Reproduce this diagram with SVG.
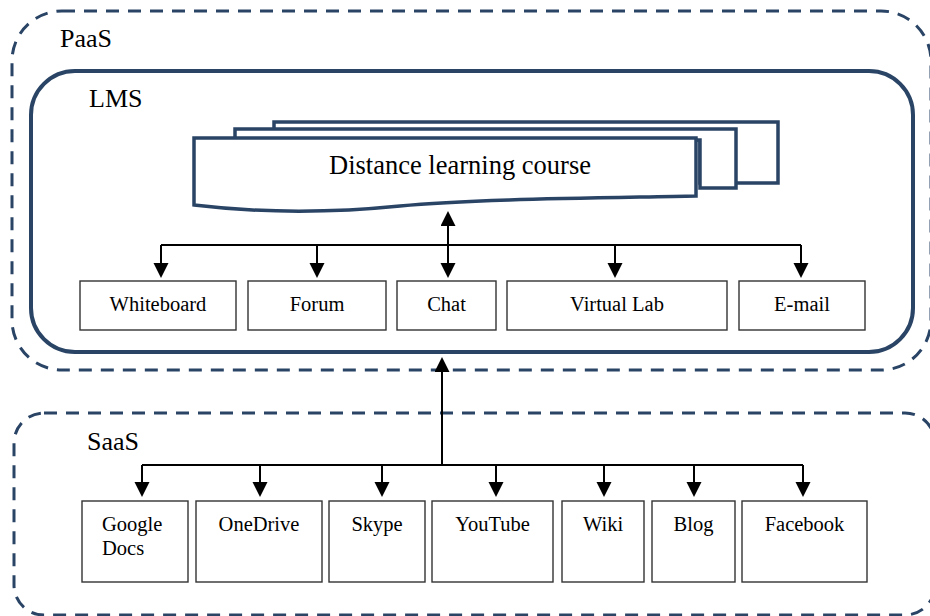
<svg xmlns="http://www.w3.org/2000/svg" width="930" height="616" viewBox="0 0 930 616">
<style>
.lbl{font-family:"Liberation Serif","Times New Roman",serif;fill:#000}
.big{font-size:26px}
.box{fill:#fff;stroke:#333;stroke-width:1.4}
.bt{font-size:20.5px;text-anchor:middle}
.dash{fill:none;stroke:#2a4466;stroke-width:3;stroke-dasharray:13 9}
.doc{fill:#fff;stroke:#2a4466;stroke-width:3.5;stroke-linejoin:miter}
.con{fill:none;stroke:#000;stroke-width:2}
</style>
<defs>
<marker id="ah" markerUnits="userSpaceOnUse" markerWidth="16" markerHeight="16" refX="12" refY="7.5" orient="auto-start-reverse" viewBox="0 0 16 16">
<path d="M0,0 L15,7.5 L0,15 Z" fill="#000"/>
</marker>
</defs>
<g id="paas">
<rect class="dash" x="12" y="11" width="919" height="359" rx="50" ry="50"/>
<text class="lbl big" x="60" y="47">PaaS</text>
</g>
<g id="saas">
<rect class="dash" x="14" y="413" width="921" height="202" rx="30" ry="30"/>
<text class="lbl big" x="87" y="450">SaaS</text>
</g>
<g id="lms">
<rect x="31" y="71" width="882" height="281" rx="44" ry="44" fill="none" stroke="#2a4466" stroke-width="4"/>
<text class="lbl big" x="89" y="107">LMS</text>
</g>
<g id="course">
<path class="doc" d="M274,122 H778 V183 H700 V140 H274 Z"/>
<path class="doc" d="M235,129 H736 V188 H700 V140 H235 Z"/>
<path class="doc" d="M194,138 H696 V196 C600,198 470,199 400,206 C330,213 260,213 194,205 Z"/>
<text class="lbl" x="460" y="174" font-size="26.5" text-anchor="middle">Distance learning course</text>
</g>
<g id="whiteboard"><rect class="box" x="80" y="281" width="156" height="49"/><text class="lbl bt" x="158" y="311">Whiteboard</text></g>
<g id="forum"><rect class="box" x="248" y="281" width="138" height="49"/><text class="lbl bt" x="317" y="311">Forum</text></g>
<g id="chat"><rect class="box" x="397" y="281" width="99" height="49"/><text class="lbl bt" x="446.5" y="311">Chat</text></g>
<g id="virtuallab"><rect class="box" x="507" y="281" width="220" height="49"/><text class="lbl bt" x="617" y="311">Virtual Lab</text></g>
<g id="email"><rect class="box" x="739" y="281" width="126" height="49"/><text class="lbl bt" x="802" y="311">E-mail</text></g>
<g id="googledocs"><rect class="box" x="82" y="501" width="106" height="81"/><text class="lbl" font-size="20.5" x="102" y="531">Google</text><text class="lbl" font-size="20.5" x="102" y="555">Docs</text></g>
<g id="onedrive"><rect class="box" x="196" y="501" width="126" height="81"/><text class="lbl bt" x="259" y="531">OneDrive</text></g>
<g id="skype"><rect class="box" x="329" y="501" width="96" height="81"/><text class="lbl bt" x="377" y="531">Skype</text></g>
<g id="youtube"><rect class="box" x="432" y="501" width="121" height="81"/><text class="lbl bt" x="492.5" y="531">YouTube</text></g>
<g id="wiki"><rect class="box" x="562" y="501" width="82" height="81"/><text class="lbl bt" x="603" y="531">Wiki</text></g>
<g id="blog"><rect class="box" x="652" y="501" width="83" height="81"/><text class="lbl bt" x="693.5" y="531">Blog</text></g>
<g id="facebook"><rect class="box" x="742" y="501" width="125" height="81"/><text class="lbl bt" x="804.5" y="531">Facebook</text></g>
<g id="connectors">
<path class="con" d="M161,245 H801"/>
<path class="con" marker-end="url(#ah)" d="M161,245 V275"/>
<path class="con" marker-end="url(#ah)" d="M317,245 V275"/>
<path class="con" marker-end="url(#ah)" d="M615,245 V275"/>
<path class="con" marker-end="url(#ah)" d="M801,245 V275"/>
<path class="con" marker-start="url(#ah)" marker-end="url(#ah)" d="M448,214 V275"/>
<path class="con" marker-end="url(#ah)" d="M442,465 V360"/>
<path class="con" d="M142,465 H803"/>
<path class="con" marker-end="url(#ah)" d="M142,465 V494"/>
<path class="con" marker-end="url(#ah)" d="M260,465 V494"/>
<path class="con" marker-end="url(#ah)" d="M382,465 V494"/>
<path class="con" marker-end="url(#ah)" d="M496,465 V494"/>
<path class="con" marker-end="url(#ah)" d="M604,465 V494"/>
<path class="con" marker-end="url(#ah)" d="M694,465 V494"/>
<path class="con" marker-end="url(#ah)" d="M803,465 V494"/>
</g>
</svg>
